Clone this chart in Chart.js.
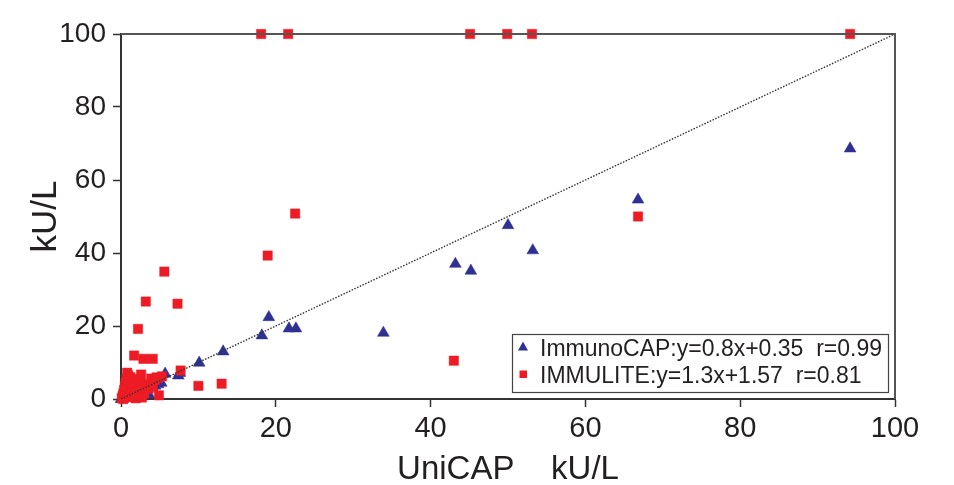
<!DOCTYPE html>
<html>
<head>
<meta charset="utf-8">
<script src="https://cdn.jsdelivr.net/npm/chart.js@4.4.1/dist/chart.umd.min.js"></script>
<style>
  html, body { margin: 0; padding: 0; background: #fff; }
  #wrap { width: 954px; height: 485px; }
</style>
</head>
<body>
<div id="wrap"><canvas id="chart" width="954" height="485"></canvas></div>
<script>
// values (UniCAP on x, other assay on y, kU/L)
const immunoX = [94.2, 66.8, 50.0, 53.2, 43.2, 45.2, 33.9, 19.1, 21.7, 22.6, 18.2, 13.2, 10.1,
  7.6, 5.7, 7.4, 0.0, 0.2, 0.4, 0.7, 1.0, 1.3, 1.7, 2.1, 2.5, 3.0, 3.4, 3.6, 4.0, 4.4, 4.8, 5.2, 0.2];
const immunoY = [68.6, 54.6, 47.6, 40.7, 37.0, 35.1, 18.1, 22.4, 19.3, 19.3, 17.4, 13.0, 9.9,
  7.1, 6.9, 6.4, 0.0, 0.1, 0.3, 0.5, 0.8, 1.0, 1.4, 1.6, 2.0, 2.4, 2.6, 1.2, 3.3, 3.6, 4.0, 4.4, 0.0];

const immuliteX = [18.1, 21.6, 45.1, 49.9, 53.1, 94.2, 66.8, 22.5, 18.95, 5.6, 3.2, 7.3, 2.2,
  1.7, 2.9, 4.1, 7.7, 4.9, 10.0, 13.0, 43.0,
  0.1, 0.2, 0.3, 0.4, 0.5, 0.6, 0.7, 0.9, 0.8, 1.2, 1.0, 1.2, 1.4, 1.5, 1.1, 1.7, 2.0, 2.2,
  2.5, 2.6, 2.4, 2.8, 3.0, 2.7, 3.3, 3.6, 4.0, 4.4, 4.8, 4.6, 5.3, 1.9, 0.3, 0.6, 3.5, 4.1, 3.9];
const immuliteY = [100, 100, 100, 100, 100, 100, 50.0, 50.8, 39.3, 34.9, 26.7, 26.1, 19.2,
  11.9, 11.0, 11.0, 7.8, 1.0, 3.6, 4.2, 10.5,
  0.2, 0.8, 1.5, 2.5, 3.5, 4.5, 5.5, 6.5, 7.2, 6.0, 1.0, 2.0, 3.0, 4.0, 0.5, 1.2, 2.0, 3.0,
  4.5, 6.7, 5.5, 2.5, 1.5, 0.4, 3.5, 4.0, 4.5, 5.2, 5.8, 5.9, 6.2, 0.2, 0.0, 0.6, 2.8, 3.3, 5.6];

const identityX = [0, 100];
const axisTicks = [0, 20, 40, 60, 80, 100];

const seriesNames = ['ImmunoCAP:y=0.8x+0.35  r=0.99', 'IMMULITE:y=1.3x+1.57  r=0.81'];
const xTitle = 'UniCAP    kU/L';
const yTitle = 'kU/L';

const BLUE = '#2e3192';
const RED = '#ed1c24';
const FONT = '"Liberation Sans", Arial, sans-serif';

const toPoints = (xs, ys) => xs.map((x, i) => ({ x, y: ys[i] }));

// top/right frame + legend box inside the plot
const framePlugin = {
  id: 'frame',
  afterDatasetsDraw(chart){
    const { ctx, chartArea: a } = chart;
    ctx.save();
    ctx.strokeStyle = '#555';
    ctx.lineWidth = 2;
    ctx.beginPath();
    ctx.moveTo(a.left, a.top);
    ctx.lineTo(a.right, a.top);
    ctx.lineTo(a.right, a.bottom);
    ctx.stroke();
    ctx.restore();
  },
  afterDraw(chart){
    const { ctx } = chart;
    const bx = 512, by = 334, bw = 376, bh = 58;
    ctx.save();
    ctx.fillStyle = '#fff';
    ctx.fillRect(bx, by, bw, bh);
    ctx.strokeStyle = '#444';
    ctx.lineWidth = 1.2;
    ctx.strokeRect(bx + 0.5, by + 0.5, bw, bh);
    ctx.font = '23px ' + FONT;
    ctx.textBaseline = 'alphabetic';
    // triangle
    ctx.fillStyle = BLUE;
    ctx.beginPath();
    ctx.moveTo(523, 341.5);
    ctx.lineTo(528, 350.5);
    ctx.lineTo(518, 350.5);
    ctx.closePath();
    ctx.fill();
    // square
    ctx.fillStyle = RED;
    ctx.fillRect(519.5, 370.5, 7.5, 7.5);
    ctx.fillStyle = '#231f20';
    ctx.fillText(seriesNames[0], 540, 355.5);
    ctx.fillText(seriesNames[1], 540, 383);
    ctx.restore();
  }
};

const ctx = document.getElementById('chart').getContext('2d');
new Chart(ctx, {
  type: 'scatter',
  data: {
    datasets: [
      {
        label: seriesNames[0],
        data: toPoints(immunoX, immunoY),
        pointStyle: 'triangle',
        pointRadius: 6.8,
        backgroundColor: BLUE,
        borderColor: BLUE,
        borderWidth: 0.5,
        clip: false,
        order: 2
      },
      {
        label: seriesNames[1],
        data: toPoints(immuliteX, immuliteY),
        pointStyle: 'rect',
        pointRadius: 6.6,
        backgroundColor: RED,
        borderColor: RED,
        borderWidth: 0.5,
        clip: false,
        order: 1
      },
      {
        type: 'line',
        label: 'y=x',
        data: toPoints(identityX, identityX),
        borderColor: '#333',
        borderWidth: 1.4,
        borderDash: [1.5, 1.5],
        pointRadius: 0,
        fill: false,
        order: 0
      }
    ]
  },
  options: {
    responsive: false,
    animation: false,
    events: [],
    layout: { padding: { left: 0, top: 34, right: 59, bottom: 0 } },
    plugins: { legend: { display: false }, tooltip: { enabled: false } },
    scales: {
      x: {
        type: 'linear',
        min: 0, max: 100,
        afterFit: (s) => { s.height = 86; },
        afterBuildTicks: (s) => { s.ticks = axisTicks.map(v => ({ value: v })); },
        border: { display: true, color: '#333', width: 2 },
        grid: { drawOnChartArea: false, drawTicks: true, tickLength: 8, tickColor: '#333', tickWidth: 1.5 },
        ticks: { color: '#231f20', font: { family: FONT, size: 29 }, padding: 5, maxRotation: 0 },
        title: { display: true, text: xTitle, color: '#231f20', font: { family: FONT, size: 33, lineHeight: 0.9 }, padding: { top: 0, bottom: 0 } }
      },
      y: {
        type: 'linear',
        min: 0, max: 100,
        afterFit: (s) => { s.width = 121; },
        afterBuildTicks: (s) => { s.ticks = axisTicks.map(v => ({ value: v })); },
        border: { display: true, color: '#333', width: 2 },
        grid: { drawOnChartArea: false, drawTicks: true, tickLength: 8, tickColor: '#333', tickWidth: 1.5 },
        ticks: { color: '#231f20', font: { family: FONT, size: 28 }, padding: 7 },
        title: { display: true, text: yTitle, color: '#231f20', font: { family: FONT, size: 35, lineHeight: 1.2 }, padding: { top: 25, bottom: 0 } }
      }
    }
  },
  plugins: [framePlugin]
});
</script>
</body>
</html>
